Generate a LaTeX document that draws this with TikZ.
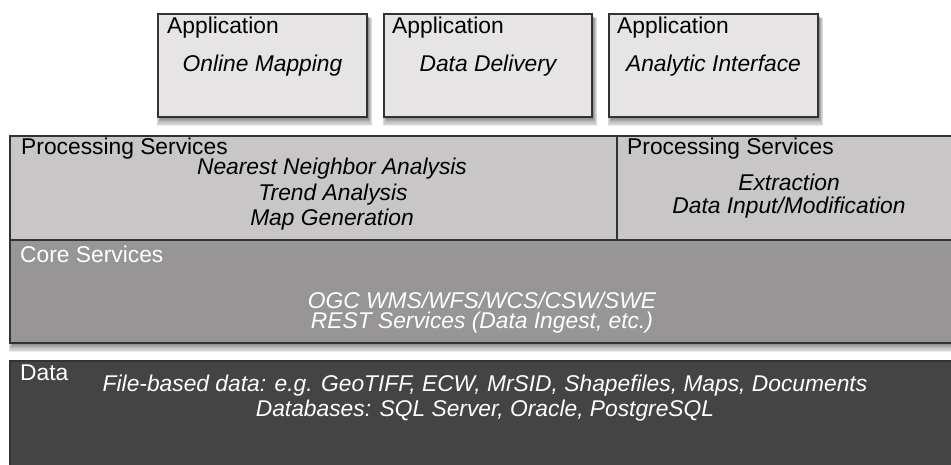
\documentclass[tikz,border=0pt]{standalone}
\usepackage{fontspec}
\setmainfont{Liberation Sans}
\definecolor{appfill}{HTML}{E6E4E4}
\definecolor{procfill}{HTML}{C8C6C6}
\definecolor{corefill}{HTML}{979595}
\definecolor{datafill}{HTML}{444444}
\definecolor{edge}{HTML}{333333}
\tikzset{
  layerbox/.style={draw=edge, line width=1.8pt},
  lbl/.style={anchor=west, inner sep=0pt, font=\fontsize{22.8}{26}\selectfont},
  itl/.style={anchor=center, inner sep=0pt, font=\fontsize{22.8}{26}\selectfont\itshape},
}
\newcommand{\softshadow}[4]{%
  \foreach \k in {1,...,7}{%
    \fill[black, opacity=0.08] ({#1+3-\k*0.6},{#2+2+\k*0.3}) rectangle ({#3+1+\k*0.6},{#4+1+\k*1.1});
  }}
\begin{document}
\begin{tikzpicture}[x=1pt,y=-1pt]
\useasboundingbox (0,0) rectangle (951,464);
\clip (0,0) rectangle (951,464);
% shadows
\softshadow{158}{14}{367}{117}
\softshadow{384}{14}{592}{117}
\softshadow{609}{14}{818}{117}
\softshadow{10}{240}{960}{343}
% application boxes
\node[layerbox, fill=appfill, minimum width=209pt, minimum height=103pt, inner sep=0pt] (app1) at (262.5,65.5) {};
\node[layerbox, fill=appfill, minimum width=208pt, minimum height=103pt, inner sep=0pt] (app2) at (488,65.5) {};
\node[layerbox, fill=appfill, minimum width=209pt, minimum height=103pt, inner sep=0pt] (app3) at (713.5,65.5) {};
\node[lbl] (app1t) at (167,28) {Application};
\node[lbl] (app2t) at (392,28) {Application};
\node[lbl] (app3t) at (617,28) {Application};
\node[itl] (app1s) at (262.5,66) {Online Mapping};
\node[itl] (app2s) at (488,66) {Data Delivery};
\node[itl] (app3s) at (713.5,66) {Analytic Interface};
% processing
\fill[procfill] (10,136) rectangle (960,240);
\draw[layerbox] (960,136) -- (10,136) -- (10,240) -- (960,240);
\draw[layerbox] (617,136) -- (617,240);
\node[lbl] (p1t) at (21,149) {Processing Services};
\node[itl] (p1a) at (332,169) {Nearest Neighbor Analysis};
\node[itl] (p1b) at (333,195) {Trend Analysis};
\node[itl] (p1c) at (332,220) {Map Generation};
\node[lbl] (p2t) at (627,149) {Processing Services};
\node[itl] (p2a) at (789,182) {Extraction};
\node[itl] (p2b) at (789,208) {Data Input/Modification};
% core
\fill[corefill] (10,240) rectangle (960,343);
\draw[layerbox] (960,240) -- (10,240) -- (10,343) -- (960,343);
\node[lbl, text=white] (ct) at (20,254) {Core Services};
\node[itl, text=white] (c1) at (482,300) {OGC WMS/WFS/WCS/CSW/SWE};
\node[itl, text=white] (c2) at (482,323) {REST Services (Data Ingest, etc.)};
% data
\fill[datafill] (10,361) rectangle (960,470);
\draw[layerbox] (960,361) -- (10,361) -- (10,470);
\node[lbl, text=white] (dt) at (20,373) {Data};
\node[itl, text=white] (d1) at (485,386) {File-based data: e.g. GeoTIFF, ECW, MrSID, Shapefiles, Maps, Documents};
\node[itl, text=white] (d2) at (485,411) {Databases: SQL Server, Oracle, PostgreSQL};
\end{tikzpicture}
\end{document}
